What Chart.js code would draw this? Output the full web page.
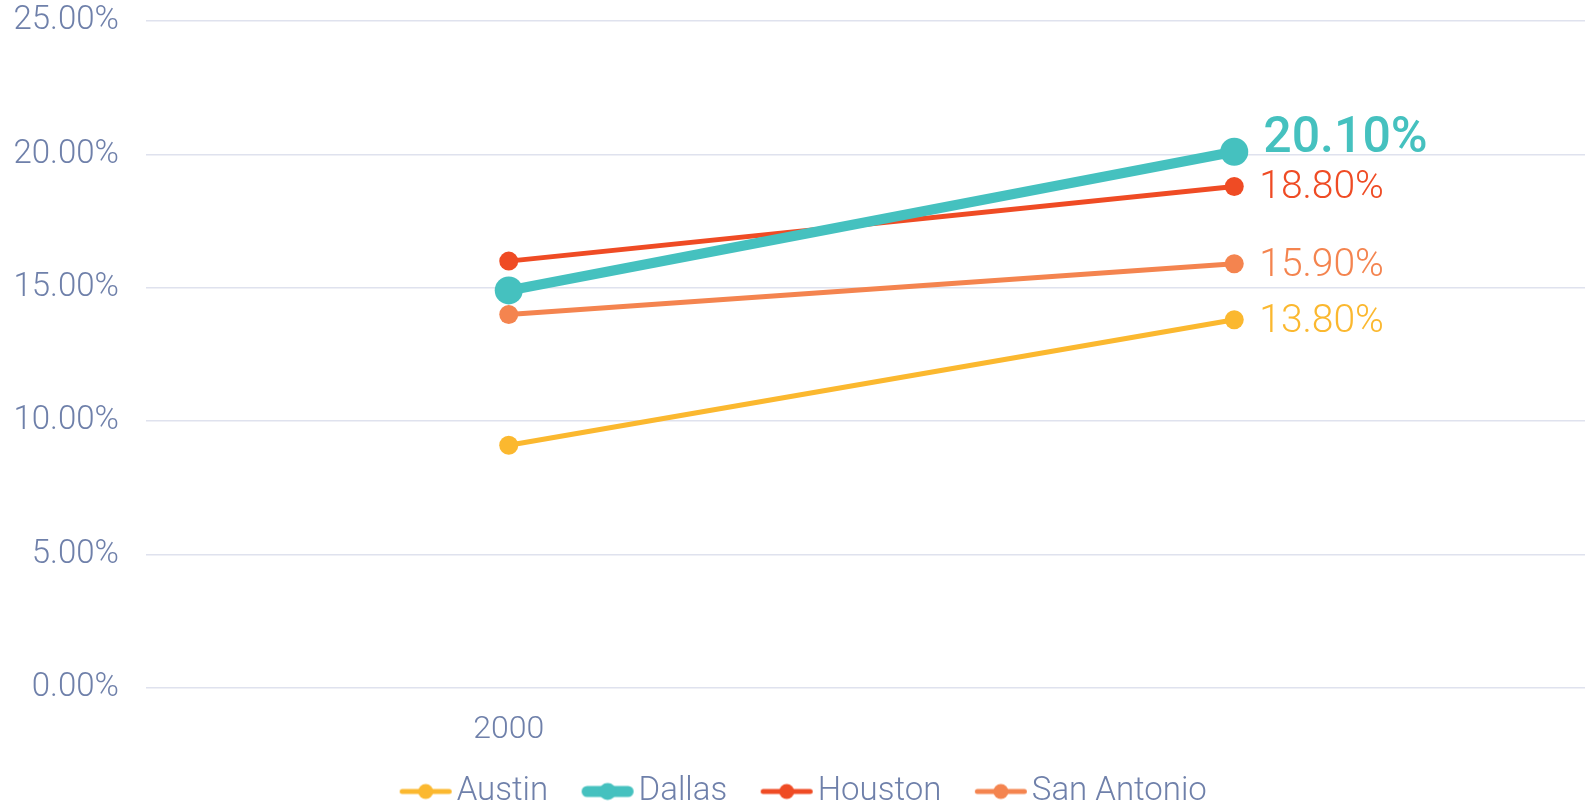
<!DOCTYPE html>
<html>
<head>
<meta charset="utf-8">
<script src="https://cdn.jsdelivr.net/npm/chart.js@4/dist/chart.umd.min.js"></script>
<style>
  html, body { margin: 0; padding: 0; background: #ffffff; overflow: hidden; }
  #wrap { width: 1597px; height: 818px; position: relative; }
</style>
</head>
<body>
<div id="wrap"><canvas id="chart"></canvas></div>
<script>
// Dados do gráfico
const categorias = ['2000', ''];
const austin = [9.1, 13.8];
const dallas = [14.9, 20.1];
const houston = [16.0, 18.8];
const sanAntonio = [14.0, 15.9];
const nomes = ['Austin', 'Dallas', 'Houston', 'San Antonio'];

const CORES = {
    austin: '#FBB82F',
    dallas: '#45C1BF',
    houston: '#EF4B24',
    sanAntonio: '#F4844F',
    texto: '#6F80AA',
    grade: '#DFE2EE'
};

const LARGURA_CAIXA = 50;

// desenha o ícone da legenda: linha + círculo (à direita de um canvas transparente)
function iconeLegenda(cor, espessura, raio) {
    const c = document.createElement('canvas');
    c.width = LARGURA_CAIXA + 25;
    c.height = 20;
    const ctx = c.getContext('2d');
    const x0 = c.width - 54;
    ctx.strokeStyle = cor;
    ctx.lineWidth = espessura;
    ctx.lineCap = 'round';
    ctx.beginPath();
    ctx.moveTo(x0 + espessura / 2 + 1, 10);
    ctx.lineTo(c.width - espessura / 2 - 1, 10);
    ctx.stroke();
    ctx.fillStyle = cor;
    ctx.beginPath();
    ctx.arc(x0 + 27, 10, raio, 0, Math.PI * 2);
    ctx.fill();
    return c;
}

function criarSerie(label, data, cor, largura, raio, icone) {
    return {
        label: label,
        data: data,
        borderColor: cor,
        backgroundColor: cor,
        pointBackgroundColor: cor,
        pointBorderWidth: 0,
        borderWidth: largura,
        pointRadius: raio,
        pointHoverRadius: raio,
        pointStyle: 'circle',
        legendIcon: icone,
        tension: 0
    };
}

// rótulos no último ponto de cada série
const rotulosFinais = {
    id: 'rotulosFinais',
    afterDatasetsDraw(chart) {
        const ctx = chart.ctx;
        chart.data.datasets.forEach((ds, i) => {
            const meta = chart.getDatasetMeta(i);
            const ultimo = meta.data[meta.data.length - 1];
            const valor = ds.data[ds.data.length - 1];
            const destaque = ds.label === 'Dallas';
            ctx.save();
            ctx.fillStyle = ds.borderColor;
            ctx.font = destaque ? '500 50px Roboto' : '300 39px Roboto';
            ctx.textAlign = 'left';
            ctx.textBaseline = 'middle';
            ctx.fillText(valor.toFixed(2) + '%', ultimo.x + (destaque ? 29 : 25), ultimo.y + (destaque ? -12 : 2));
            ctx.restore();
        });
    }
};

const config = {
    type: 'line',
    data: {
        labels: categorias,
        datasets: [
            criarSerie(nomes[0], austin, CORES.austin, 5, 9.5, iconeLegenda(CORES.austin, 5, 7.5)),
            criarSerie(nomes[1], dallas, CORES.dallas, 10, 14, iconeLegenda(CORES.dallas, 11, 8.5)),
            criarSerie(nomes[2], houston, CORES.houston, 5, 9.5, iconeLegenda(CORES.houston, 5, 7.5)),
            criarSerie(nomes[3], sanAntonio, CORES.sanAntonio, 5, 9.5, iconeLegenda(CORES.sanAntonio, 5, 7.5))
        ]
    },
    options: {
        responsive: true,
        maintainAspectRatio: false,
        animation: false,
        layout: { autoPadding: false, padding: 0 },
        scales: {
            x: {
                offset: true,
                grid: { display: false, drawTicks: false },
                border: { display: false },
                afterFit(scale) { scale.height = 63; },
                ticks: {
                    color: CORES.texto,
                    font: { family: 'Roboto', size: 32, weight: '300' },
                    padding: 23,
                    maxRotation: 0
                }
            },
            y: {
                min: 0,
                max: 25,
                grid: { color: CORES.grade, lineWidth: 1.5, drawTicks: false },
                border: { display: false },
                afterFit(scale) {
                    scale.width = 146;
                    scale.paddingTop = 21;
                    scale.paddingBottom = 0;
                },
                ticks: {
                    stepSize: 5,
                    color: CORES.texto,
                    padding: 27,
                    font: { family: 'Roboto', size: 33, weight: '300' },
                    callback: (v) => v.toFixed(2) + '%'
                }
            }
        },
        plugins: {
            tooltip: { enabled: false },
            legend: {
                position: 'bottom',
                labels: {
                    usePointStyle: true,
                    pointStyleWidth: LARGURA_CAIXA,
                    padding: 24,
                    color: CORES.texto,
                    font: { family: 'Roboto', size: 33, weight: '300' },
                    generateLabels(chart) {
                        return chart.data.datasets.map((ds, i) => ({
                            text: ds.label,
                            fontColor: CORES.texto,
                            pointStyle: ds.legendIcon,
                            fillStyle: ds.borderColor,
                            strokeStyle: ds.borderColor,
                            lineWidth: 0,
                            hidden: false,
                            datasetIndex: i
                        }));
                    }
                }
            }
        }
    },
    plugins: [rotulosFinais]
};

new Chart(document.getElementById('chart').getContext('2d'), config);
</script>
</body>
</html>
